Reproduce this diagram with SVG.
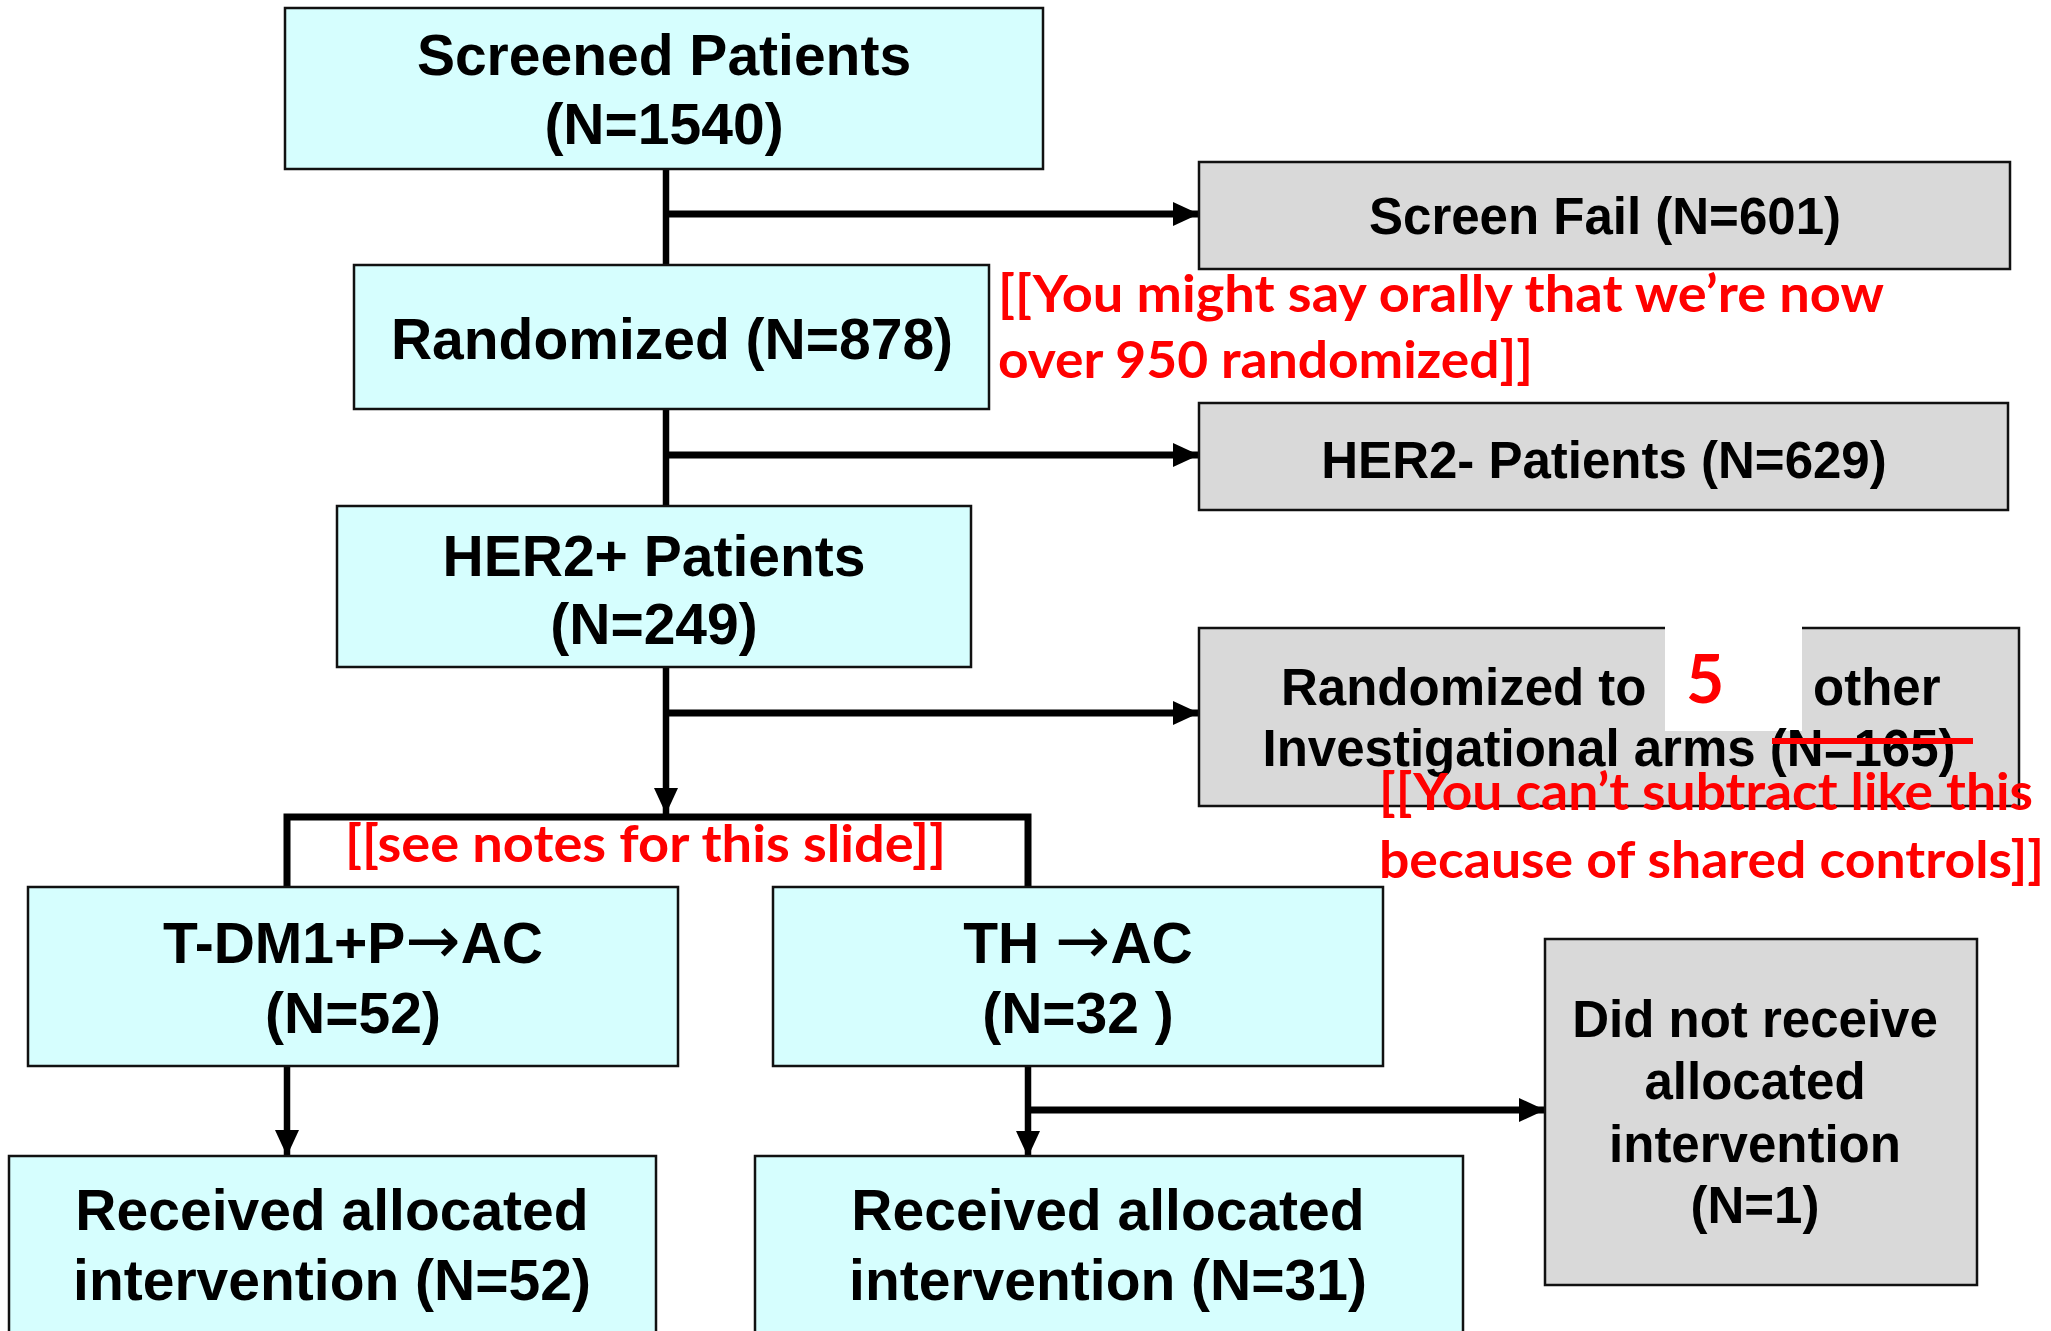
<svg xmlns="http://www.w3.org/2000/svg" width="2051" height="1331" viewBox="0 0 2051 1331">
  <defs>
    <style>
      .cyan { fill: #D6FEFE; stroke: #111; stroke-width: 2.5; }
      .gray { fill: #D9D9D9; stroke: #111; stroke-width: 2.5; }
      .lbl { font-family: "Liberation Sans", Arial, sans-serif; font-weight: bold; fill: #000; text-anchor: middle; }
      .big { font-size: 57px; }
      .small { font-size: 51px; }
      .arrow { font-family: "DejaVu Sans", sans-serif; font-weight: normal; font-size: 66px; }
      .note { font-family: Lato, "Open Sans", sans-serif; font-weight: bold; font-size: 52px; fill: #FF0000; }
      .wire { fill: none; stroke: #000; stroke-width: 7; }
      .vwire { fill: none; stroke: #000; stroke-width: 6.5; }
    </style>
    <marker id="head" markerUnits="userSpaceOnUse" markerWidth="28" markerHeight="26" refX="26" refY="12" orient="auto">
      <path d="M0,0 L26,12 L0,24 Z" fill="#000"/>
    </marker>
  </defs>

  <rect width="2051" height="1331" fill="#FFFFFF"/>

  <!-- connectors -->
  <g id="connectors">
    <path class="vwire" d="M666,162 V265"/>
    <path class="wire" d="M666,214 H1199" marker-end="url(#head)"/>
    <path class="vwire" d="M666,409 V506"/>
    <path class="wire" d="M666,455 H1199" marker-end="url(#head)"/>
    <path class="vwire" d="M666,667 V814" marker-end="url(#head)"/>
    <path class="wire" d="M666,713 H1199" marker-end="url(#head)"/>
    <path class="wire" d="M287,887 V817 H1028 V887"/>
    <path class="vwire" d="M287,1066 V1156" marker-end="url(#head)"/>
    <path class="vwire" d="M1028,1066 V1157" marker-end="url(#head)"/>
    <path class="wire" d="M1028,1110 H1545" marker-end="url(#head)"/>
  </g>

  <!-- nodes -->
  <g id="screened">
    <rect class="cyan" x="285" y="8" width="758" height="161"/>
    <text class="lbl big" x="664" y="75">Screened Patients</text>
    <text class="lbl big" x="664" y="144">(N=1540)</text>
  </g>

  <g id="screen-fail">
    <rect class="gray" x="1199" y="162" width="811" height="107"/>
    <text class="lbl small" x="1605" y="234">Screen Fail (N=601)</text>
  </g>

  <g id="randomized">
    <rect class="cyan" x="354" y="265" width="635" height="144"/>
    <text class="lbl big" x="672" y="359">Randomized (N=878)</text>
  </g>

  <g id="her2-neg">
    <rect class="gray" x="1199" y="403" width="809" height="107"/>
    <text class="lbl small" x="1604" y="478">HER2- Patients (N=629)</text>
  </g>

  <g id="her2-pos">
    <rect class="cyan" x="337" y="506" width="634" height="161"/>
    <text class="lbl big" x="654" y="576">HER2+ Patients</text>
    <text class="lbl big" x="654" y="644">(N=249)</text>
  </g>

  <g id="other-arms">
    <rect class="gray" x="1199" y="628" width="820" height="178"/>
    <rect x="1665" y="624" width="137" height="107" fill="#FFFFFF"/>
    <text class="note" style="font-size:66px" x="1686" y="703">5</text>
    <text class="lbl small" style="text-anchor:start" x="1281" y="705">Randomized to</text>
    <text class="lbl small" style="text-anchor:start" x="1813" y="705">other</text>
    <text class="lbl small" x="1609" y="766">Investigational arms (N=165)</text>
    <line x1="1772" y1="741" x2="1973" y2="741" stroke="#FF0000" stroke-width="6"/>
  </g>

  <g id="tdm1">
    <rect class="cyan" x="28" y="887" width="650" height="179"/>
    <text class="lbl big" x="353" y="963">T-DM1+P<tspan class="arrow">→</tspan>AC</text>
    <text class="lbl big" x="353" y="1033">(N=52)</text>
  </g>

  <g id="th">
    <rect class="cyan" x="773" y="887" width="610" height="179"/>
    <text class="lbl big" x="1078" y="963">TH <tspan class="arrow">→</tspan>AC</text>
    <text class="lbl big" x="1078" y="1033">(N=32 )</text>
  </g>

  <g id="not-received">
    <rect class="gray" x="1545" y="939" width="432" height="346"/>
    <text class="lbl small" x="1755" y="1037">Did not receive</text>
    <text class="lbl small" x="1755" y="1099">allocated</text>
    <text class="lbl small" x="1755" y="1162">intervention</text>
    <text class="lbl small" x="1755" y="1223">(N=1)</text>
  </g>

  <g id="received-tdm1">
    <rect class="cyan" x="9" y="1156" width="647" height="190"/>
    <text class="lbl big" x="332" y="1230">Received allocated</text>
    <text class="lbl big" x="332" y="1300">intervention (N=52)</text>
  </g>

  <g id="received-th">
    <rect class="cyan" x="755" y="1156" width="708" height="190"/>
    <text class="lbl big" x="1108" y="1230">Received allocated</text>
    <text class="lbl big" x="1108" y="1300">intervention (N=31)</text>
  </g>

  <!-- speaker annotations -->
  <g id="notes">
    <text class="note" x="998" y="312" textLength="886" lengthAdjust="spacingAndGlyphs">[[You might say orally that we’re now</text>
    <text class="note" x="998" y="378" textLength="535" lengthAdjust="spacingAndGlyphs">over 950 randomized]]</text>
    <text class="note" x="345" y="862" textLength="601" lengthAdjust="spacingAndGlyphs">[[see notes for this slide]]</text>
    <text class="note" x="1379" y="810" textLength="654" lengthAdjust="spacingAndGlyphs">[[You can’t subtract like this</text>
    <text class="note" x="1379" y="878" textLength="665" lengthAdjust="spacingAndGlyphs">because of shared controls]]</text>
  </g>
</svg>
